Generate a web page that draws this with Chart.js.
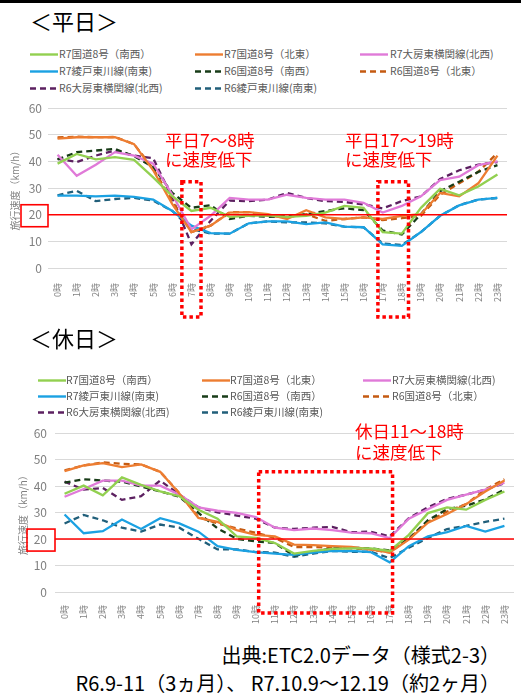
<!DOCTYPE html>
<html>
<head>
<meta charset="utf-8">
<script src="https://cdn.jsdelivr.net/npm/chart.js@4.4.1/dist/chart.umd.min.js"></script>
<style>
body { margin: 0; width: 521px; height: 700px; background: #fff; position: relative; overflow: hidden; font-family: "Noto Sans CJK JP", sans-serif; }
.topbar { position: absolute; left: 0; top: 0; width: 521px; height: 3px; background: #000; }
.title { position: absolute; left: 30px; font-size: 22px; line-height: 26px; color: #000; }
.legend { position: absolute; left: 0; width: 521px; }
.item { position: absolute; height: 14px; font-size: 10.5px; line-height: 14px; color: #595959; white-space: nowrap; }
.item svg { position: absolute; left: 0; top: 6px; }
.item span { position: absolute; top: 0; }
.note { position: absolute; color: #ff0000; font-size: 17.5px; line-height: 19px; white-space: nowrap; }
.wrap { position: absolute; left: 0; width: 521px; }
.src { position: absolute; right: 21px; font-size: 20px; line-height: 28px; color: #000; text-align: right; white-space: nowrap; }
</style>
</head>
<body>
<div class="topbar"></div>

<div class="title" style="top:7px">＜平日＞</div>
<div class="legend" id="legendWd" style="top:47px"></div>
<div class="wrap" style="top:95px;height:227px"><canvas id="graficaPlaza"></canvas></div>
<div class="note" style="left:165px;top:130px">平日7～8時<br>に速度低下</div>
<div class="note" style="left:345px;top:130px">平日17～19時<br>に速度低下</div>

<div class="title" style="top:324px">＜休日＞</div>
<div class="legend" id="legendHd" style="top:373px"></div>
<div class="wrap" style="top:418px;height:210px"><canvas id="graficaFeriado"></canvas></div>
<div class="note" style="left:355px;top:420px;line-height:21px">休日11～18時<br>に速度低下</div>

<div class="src" style="top:641px">出典:ETC2.0データ（様式2-3）</div>
<div class="src" style="top:669px">R6.9-11（3ヵ月）、 R7.10.9～12.19（約2ヶ月）</div>

<script>
// Datos
const horas = ['0時', '1時', '2時', '3時', '4時', '5時', '6時', '7時', '8時', '9時', '10時', '11時',
    '12時', '13時', '14時', '15時', '16時', '17時', '18時', '19時', '20時', '21時', '22時', '23時'];
const nombres = ['R7国道8号（南西）', 'R7国道8号（北東）', 'R7大房東横関線(北西)', 'R7綾戸東川線(南東)',
    'R6国道8号（南西）', 'R6国道8号（北東）', 'R6大房東横関線(北西)', 'R6綾戸東川線(南東)'];
const colores = ['#92d050', '#ed7d31', '#e07ad8', '#1ba1e2', '#183c18', '#c55a11', '#5c2060', '#215f7a'];
const punteado = [false, false, false, false, true, true, true, true];
const velocidadLimite = 20;
const ticksY = [0, 10, 20, 30, 40, 50, 60];

// 平日
const wdR7SW = [39.2, 42.8, 40.8, 41.6, 40.6, 34, 27, 21.4, 22.6, 19.2, 19.6, 19.8, 19.2, 19.6, 20.8, 23.3, 22.6, 13.5, 12.9, 22.6, 29.7, 27.3, 30.6, 35.1];
const wdR7NE = [48.6, 49.1, 49.1, 49.1, 46.5, 36.7, 24, 13.5, 15.9, 20.8, 21, 20.2, 18.4, 21.7, 19, 18.4, 19, 18.4, 19.6, 20.2, 28.2, 26.9, 31.8, 42.2];
const wdR7NW = [42.5, 34.6, 38.8, 43.5, 42.2, 39.2, 27.5, 14.5, 19.6, 26.3, 25.7, 25.7, 27.5, 26.3, 25.7, 25.7, 24.5, 20.8, 23.3, 26.9, 33, 34.3, 38.6, 40];
const wdR7SE = [27.2, 27.2, 26.9, 27.2, 26.7, 25.7, 21.4, 15.9, 13.1, 12.9, 16.8, 17.5, 17.5, 16.5, 17.1, 15.5, 15.3, 8.9, 8.3, 13.5, 19.6, 23.5, 25.7, 26.3];
const wdR6SW = [40.8, 43.5, 44.1, 44.7, 42, 37.9, 28.2, 22.6, 23.6, 18.4, 19.6, 19.2, 19.6, 20.2, 21.4, 22.4, 21.7, 14.1, 12.6, 20.2, 28.8, 32.4, 36.1, 38.6];
const wdR6NE = [49, 49.3, 49.1, 49.2, 46.5, 37.3, 25.1, 13.5, 15.9, 21, 21, 19.6, 19, 20.2, 17.7, 18.4, 19, 18, 18.7, 19.6, 27.5, 31.8, 36.1, 43.2];
const wdR6NW = [41, 39.8, 42.2, 44.1, 42.2, 41.2, 26.3, 8.9, 17.7, 25.3, 25.1, 25.7, 28.2, 26.3, 25.1, 24.8, 23.9, 22.4, 25.1, 26.9, 33.4, 36.7, 38.8, 39.8];
const wdR6SE = [27.3, 29, 25.1, 25.9, 26.3, 25.3, 21.4, 14.7, 12.9, 12.9, 16.8, 17.5, 17.1, 17.1, 16.8, 15.5, 15.3, 9.2, 8.6, 13.5, 19.6, 23.6, 25.7, 26.3];

// 休日
const hdR7SW = [37.1, 40.2, 36.5, 43.3, 40.5, 38, 36.2, 31.1, 27.7, 21, 20.4, 18.5, 14.5, 15.5, 16.3, 16.5, 16.5, 15.5, 21.6, 29.8, 32, 31.1, 34.8, 38];
const hdR7NE = [45.7, 47.8, 48.7, 47.2, 48.2, 45.4, 37.2, 28, 26.5, 23.4, 21.6, 21, 17.9, 17.7, 17.3, 17, 16.1, 14.9, 19.8, 26.2, 29.5, 33.2, 38, 42.1];
const hdR7NW = [36, 38.9, 42.1, 42.1, 40.2, 40.2, 36.8, 32, 30.7, 29.9, 28.3, 24.3, 23.4, 24, 23.4, 22.4, 22.2, 20.4, 27.7, 31.3, 34.8, 36.8, 38.7, 41.3];
const hdR7SE = [29.3, 22.2, 23, 27.4, 23.8, 27.9, 25.9, 22.8, 17.3, 15.9, 15.1, 14.5, 14, 14.9, 15.5, 15.5, 15.1, 11.2, 17.3, 21, 22.6, 25, 22.8, 25];
const hdR6SW = [41.3, 42.6, 42.1, 41.7, 39.9, 38, 36, 29.9, 24, 20.1, 19.1, 18.5, 13.7, 15.2, 16.5, 16.7, 16.5, 15.7, 20.1, 27.1, 31.3, 32.6, 35, 38.7];
const hdR6NE = [46, 47.8, 49, 48.4, 48.2, 45.4, 37.4, 28.3, 25.9, 24, 22.4, 20.4, 17, 17, 16.7, 16.5, 16.1, 14.9, 20.1, 26.5, 30.4, 33.2, 38.7, 42.6];
const hdR6NW = [41.7, 38.7, 39.3, 34.8, 36.2, 42.1, 36.8, 32, 30.1, 28.9, 27.7, 24.3, 23.8, 24.3, 24.6, 22.6, 22.8, 21, 27.9, 32, 35.2, 36.8, 38.7, 41.1];
const hdR6SE = [25.9, 29.1, 27.1, 24.3, 22.8, 25.5, 24.3, 20.1, 16.1, 16.1, 15.1, 14.9, 13.3, 14.5, 15.5, 15.2, 15.2, 12.8, 16.7, 20.4, 23.8, 25, 26.5, 27.7];

Chart.defaults.font.family = '"Noto Sans CJK JP", sans-serif';

// Leyenda en HTML (3 columnas como en el original)
function leyenda(id, cols, filas) {
    const cont = document.getElementById(id);
    nombres.forEach((n, i) => {
        const d = document.createElement('div');
        d.className = 'item';
        d.style.left = cols[i % 3][0] + 'px';
        d.style.top = filas[Math.floor(i / 3)] + 'px';
        const dash = punteado[i] ? ' stroke-dasharray="6 4"' : '';
        d.innerHTML = '<svg width="28" height="3"><line x1="0" y1="1.5" x2="28" y2="1.5" stroke="' + colores[i] +
            '" stroke-width="2.4"' + dash + '/></svg><span style="left:' + (cols[i % 3][1] - cols[i % 3][0]) + 'px">' + n + '</span>';
        cont.appendChild(d);
    });
}
leyenda('legendWd', [[30, 59], [195, 224], [360, 390]], [0, 17, 34]);
leyenda('legendHd', [[38, 66], [202, 230], [363, 392]], [0, 16, 32]);

// Línea de 20 km/h, recuadro y rectángulos punteados
const marcas = {
    id: 'marcas',
    afterDatasetsDraw(chart, args, opts) {
        const {ctx, chartArea: a, scales: {x, y}} = chart;
        ctx.save();
        const y20 = y.getPixelForValue(velocidadLimite);
        ctx.strokeStyle = '#ff0000';
        ctx.lineWidth = 1.6;
        ctx.beginPath();
        ctx.moveTo(a.left, y20);
        ctx.lineTo(a.right, y20);
        ctx.stroke();
        ctx.strokeRect(a.left - opts.cajaAncho, y20 - 10, opts.cajaAncho, 22);
        ctx.lineWidth = 3.5;
        ctx.setLineDash([3.5, 3]);
        opts.rects.forEach(r => {
            const l = x.getPixelForValue(r[0]);
            const rr = x.getPixelForValue(r[1]);
            const t = y.getPixelForValue(r[2]);
            const b = a.bottom + r[3];
            ctx.strokeRect(l, t, rr - l, b - t);
        });
        ctx.restore();
    }
};

function grafica(id, series, cfg) {
    const ctx = document.getElementById(id).getContext('2d');
    return new Chart(ctx, {
        type: 'line',
        data: {
            labels: horas,
            datasets: series.map((s, i) => ({
                label: nombres[i],
                data: s,
                borderColor: colores[i],
                backgroundColor: colores[i],
                borderWidth: 2.3,
                borderDash: punteado[i] ? [6, 4] : [],
                pointRadius: 0,
                tension: 0,
                fill: false
            }))
        },
        options: {
            responsive: true,
            maintainAspectRatio: false,
            animation: false,
            layout: {
                padding: {top: cfg.padTop, right: cfg.padRight, left: 0, bottom: 0}
            },
            plugins: {
                legend: {display: false},
                tooltip: {enabled: false},
                marcas: {cajaAncho: cfg.cajaAncho, rects: cfg.rects}
            },
            scales: {
                x: {
                    offset: true,
                    grid: {display: false},
                    border: {display: false},
                    ticks: {
                        color: '#808080',
                        font: {size: 9},
                        maxRotation: 90,
                        minRotation: 90,
                        autoSkip: false,
                        padding: cfg.xPad
                    },
                    afterFit: (s) => { s.height = cfg.xAlto; }
                },
                y: {
                    min: 0,
                    max: 60,
                    afterBuildTicks: (s) => { s.ticks = ticksY.map(v => ({value: v})); },
                    grid: {color: '#d9d9d9', drawTicks: false, lineWidth: 1},
                    border: {display: false},
                    ticks: {color: '#808080', font: {size: 12}, padding: cfg.yPad},
                    title: {
                        display: true,
                        text: '旅行速度（km/h）',
                        color: '#808080',
                        font: {size: 10},
                        padding: {top: cfg.tituloPad, bottom: 0}
                    },
                    afterFit: (s) => { s.width = cfg.yAncho; }
                }
            }
        },
        plugins: [marcas]
    });
}

grafica('graficaPlaza', [wdR7SW, wdR7NE, wdR7NW, wdR7SE, wdR6SW, wdR6NE, wdR6NW, wdR6SE], {
    padTop: 10, padRight: 14, xAlto: 54, yAncho: 48, xPad: 7, yPad: 6, tituloPad: 9, cajaAncho: 27,
    rects: [[6.5, 7.5, 32.4, 49], [16.75, 18.35, 32.4, 49]]
});

grafica('graficaFeriado', [hdR7SW, hdR7NE, hdR7NW, hdR7SE, hdR6SW, hdR6NE, hdR6NW, hdR6SE], {
    padTop: 10, padRight: 7, xAlto: 36, yAncho: 55, xPad: 5, yPad: 8, tituloPad: 17, cajaAncho: 28,
    rects: [[10.15, 17.15, 45.4, 21]]
});
</script>
</body>
</html>
